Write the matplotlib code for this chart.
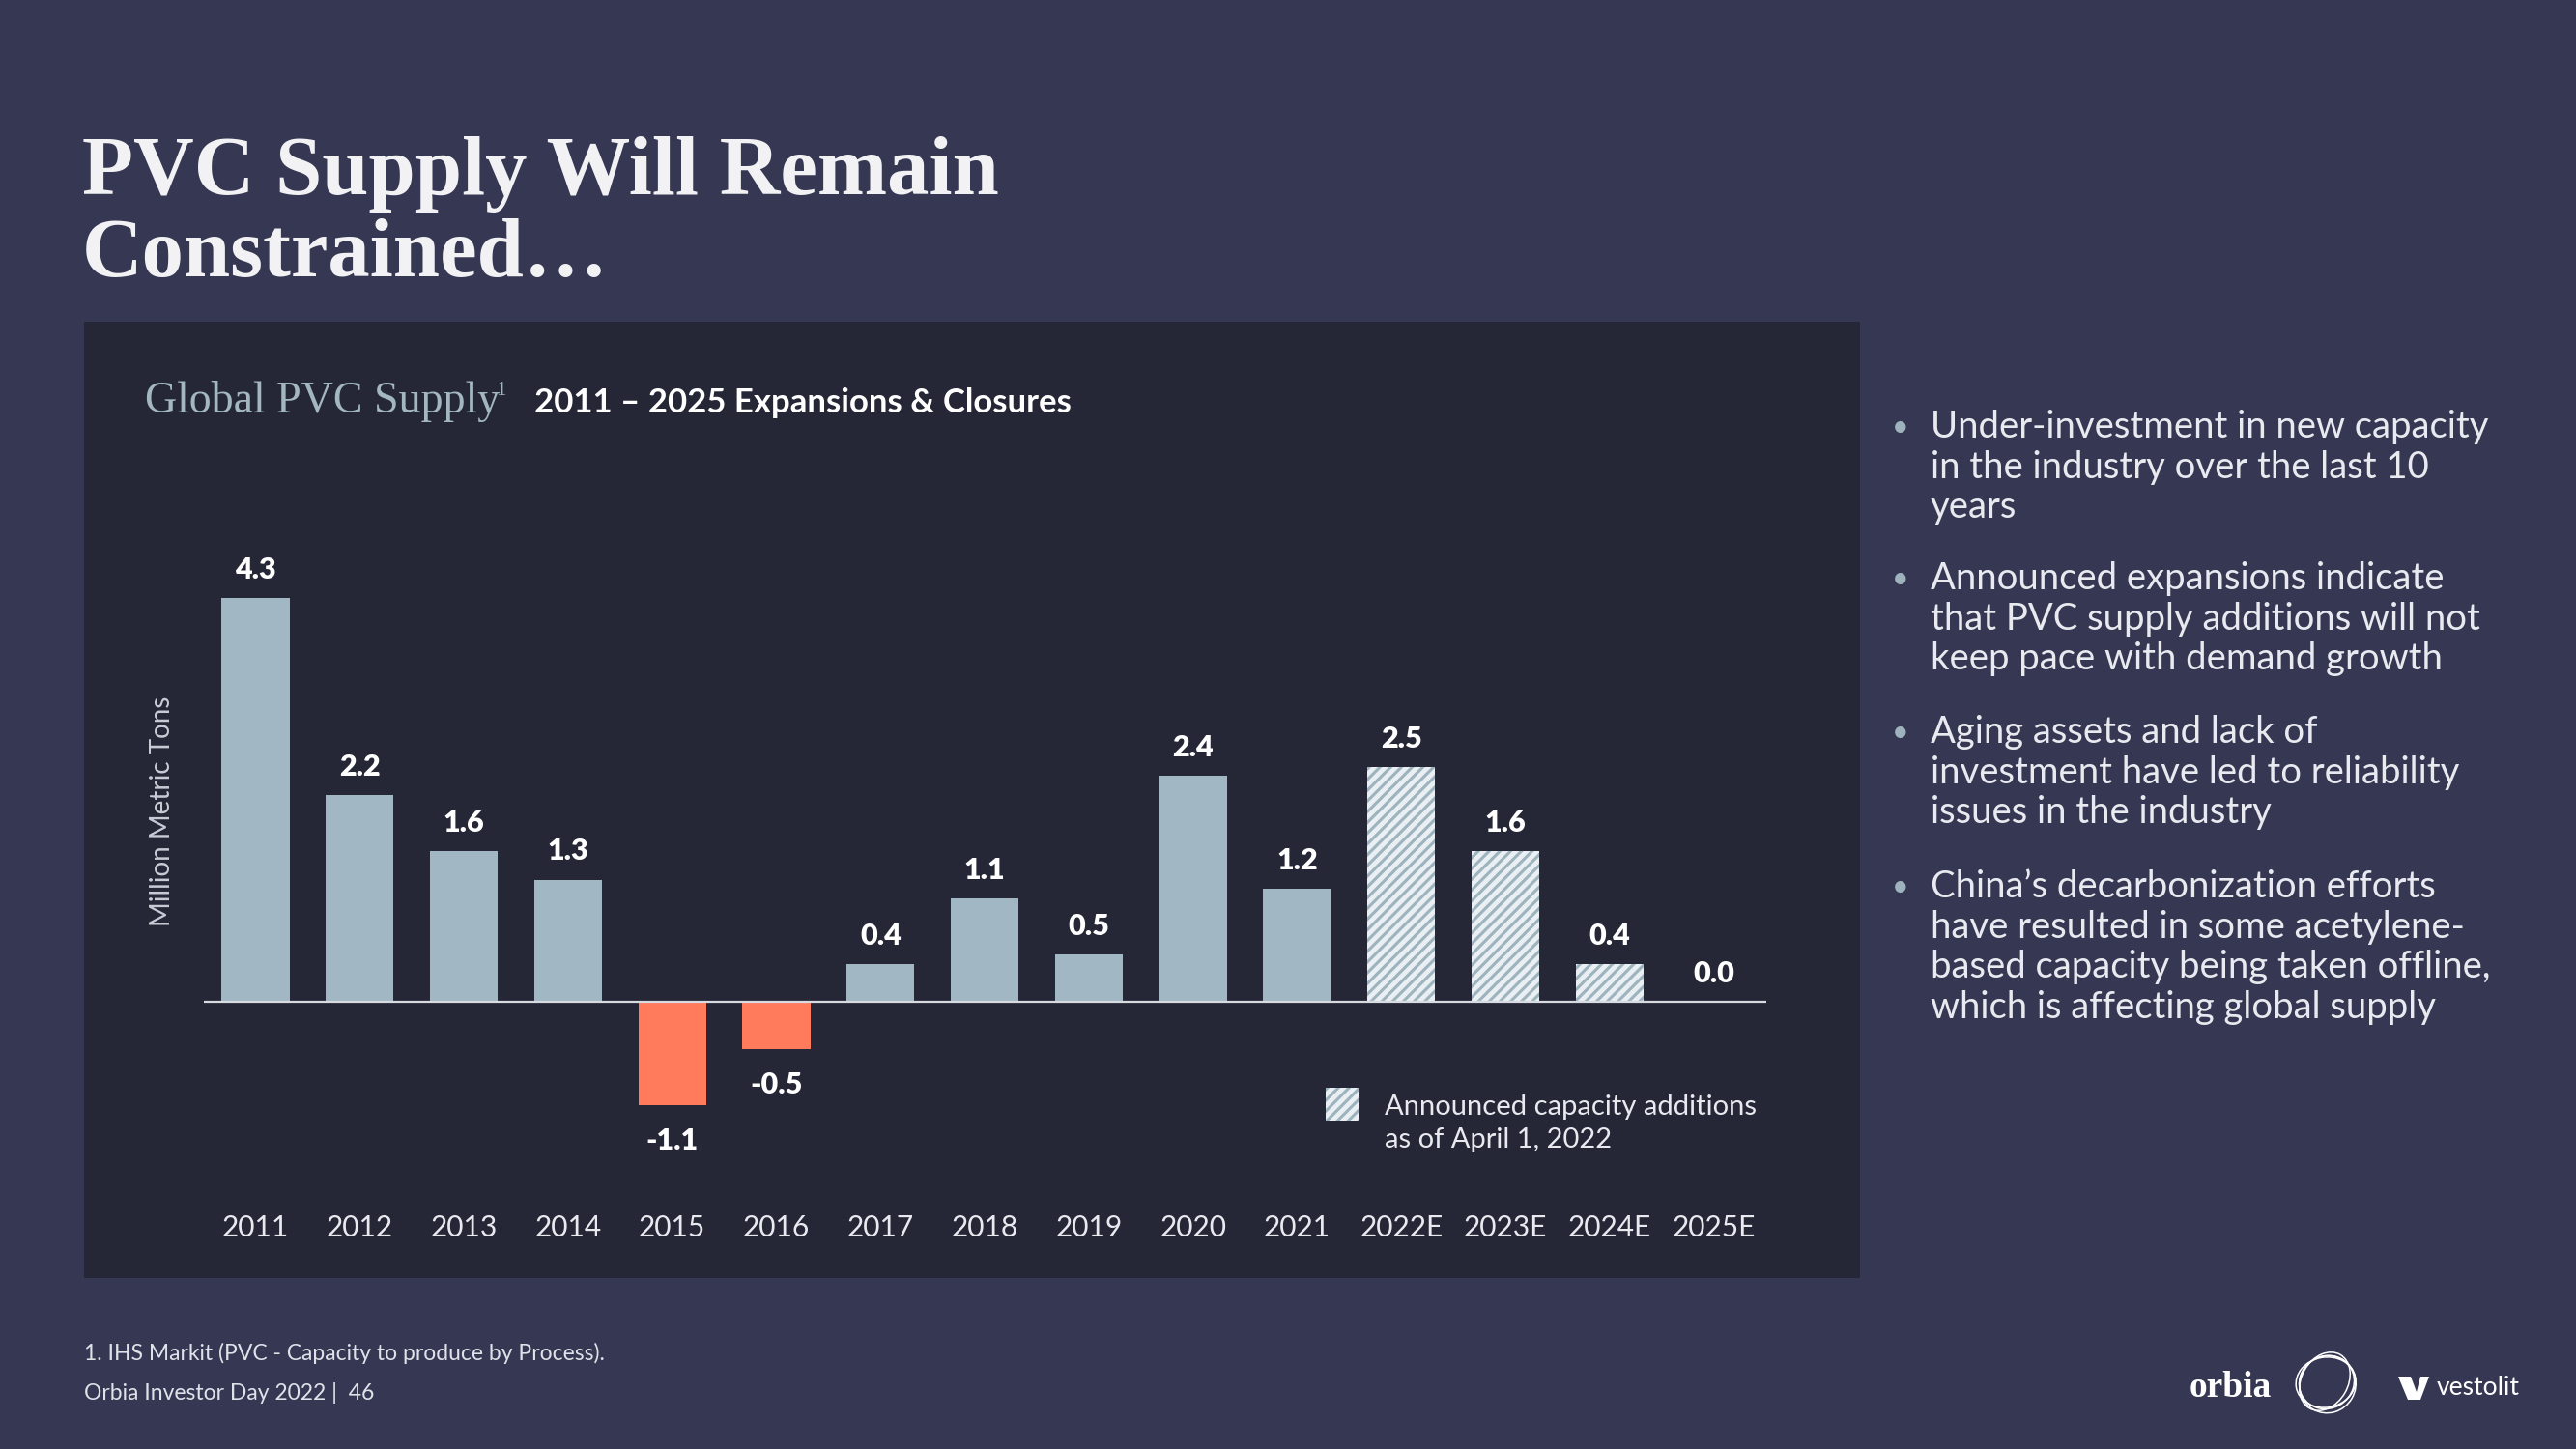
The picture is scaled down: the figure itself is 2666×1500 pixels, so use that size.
import matplotlib
matplotlib.use("Agg")
import matplotlib.pyplot as plt
from matplotlib.patches import Rectangle, Ellipse, Polygon
from matplotlib.transforms import IdentityTransform

# data
years = ['2011', '2012', '2013', '2014', '2015', '2016', '2017', '2018',
         '2019', '2020', '2021', '2022E', '2023E', '2024E', '2025E']
supply = [4.3, 2.2, 1.6, 1.3, -1.1, -0.5, 0.4, 1.1, 0.5, 2.4, 1.2, 2.5, 1.6, 0.4, 0.0]
announced = [False] * 11 + [True] * 4

bullets = [
    ["Under-investment in new capacity", "in the industry over the last 10", "years"],
    ["Announced expansions indicate", "that PVC supply additions will not",
     "keep pace with demand growth"],
    ["Aging assets and lack of", "investment have led to reliability",
     "issues in the industry"],
    ["China\u2019s decarbonization efforts", "have resulted in some acetylene-",
     "based capacity being taken offline,", "which is affecting global supply"],
]

BG = '#363853'
PANEL = '#262736'
BAR = '#A1B7C3'
NEG = '#FF7B5C'
TXT = '#E8EAF0'
SANS = ['Lato', 'DejaVu Sans']
SERIF = ['Liberation Serif', 'DejaVu Serif']

W, H = 2666, 1500


def fx(px):
    return px / W


def fy(py):
    return 1 - py / H


fig = plt.figure(figsize=(W / 100, H / 100), dpi=100, facecolor=BG)

# chart panel
fig.patches.append(Rectangle((fx(87), fy(1323)), fx(1925) - fx(87), fy(333) - fy(1323),
                             transform=fig.transFigure, facecolor=PANEL, edgecolor='none',
                             zorder=-5))

# title
fig.text(fx(85), fy(201), "PVC Supply Will Remain", family=SERIF, weight='bold',
         fontsize=62.5, color='#F2F2F4', va='baseline')
fig.text(fx(85), fy(286), "Constrained\u2026", family=SERIF, weight='bold',
         fontsize=62.5, color='#F2F2F4', va='baseline')

# chart header
fig.text(fx(150), fy(427), "Global PVC Supply", family=SERIF, fontsize=33,
         color='#A3B7C2', va='baseline')
fig.text(fx(513), fy(409), "1", family=SERIF, fontsize=15, color='#A3B7C2',
         va='baseline')
fig.text(fx(553), fy(427), "2011 \u2013 2025 Expansions & Closures", family=SANS,
         weight='bold', fontsize=25, color='#FFFFFF', va='baseline')

# axes
ax_left, ax_right = 210.6, 1827.6
ax_top, ax_bot = 570, 1251
ax = fig.add_axes([fx(ax_left), fy(ax_bot), fx(ax_right) - fx(ax_left), fy(ax_top) - fy(ax_bot)])
ax.set_facecolor('none')
ax.set_zorder(2)

x = list(range(len(years)))
hist_x = [i for i in x if not announced[i]]
hist_v = [supply[i] for i in hist_x]
hist_c = [BAR if v >= 0 else NEG for v in hist_v]
ax.bar(hist_x, hist_v, width=0.65, color=hist_c, linewidth=0, zorder=2)

plt.rcParams['hatch.linewidth'] = 2.2
fut_x = [i for i in x if announced[i]]
fut_v = [supply[i] for i in fut_x]
ax.bar(fut_x, fut_v, width=0.65, facecolor='#E9EFF2', edgecolor='#9DB3BE',
       hatch='///', linewidth=0, zorder=2)

ax.axhline(0, color='#D8DBE2', lw=1.6, zorder=3)

for i, v in enumerate(supply):
    off = 15 if v >= 0 else -23
    ax.annotate(f"{v:.1f}", (i, v), xytext=(0, off), textcoords='offset pixels',
                ha='center', va='bottom' if v >= 0 else 'top', family=SANS,
                weight='heavy', fontsize=22, color='#FFFFFF')

ax.set_xlim(-0.5, len(years) - 0.5)
ax.set_ylim(-2.2, 4.8)
ax.set_xticks(x, years, family=SANS, fontsize=21.5, color=TXT)
ax.tick_params(axis='x', length=0, pad=4)
ax.set_yticks([])
for s in ax.spines.values():
    s.set_visible(False)
ax.set_ylabel("Million Metric Tons", family=SANS, fontsize=20, color='#C9CCD6')
ax.yaxis.set_label_coords((181 - ax_left) / (ax_right - ax_left),
                          (ax_bot - 840) / (ax_bot - ax_top))

# legend for announced additions
fig.patches.append(Rectangle((fx(1372), fy(1160)), fx(1406) - fx(1372), fy(1126) - fy(1160),
                             transform=fig.transFigure, facecolor='#E9EFF2',
                             edgecolor='#9DB3BE', hatch='///', linewidth=0, zorder=3))
fig.text(fx(1433), fy(1146), "Announced capacity additions", family=SANS, fontsize=21,
         color=TXT, va='center')
fig.text(fx(1433), fy(1180), "as of April 1, 2022", family=SANS, fontsize=21,
         color=TXT, va='center')

# bullet points
starts = [442, 599, 758, 918]
for lines, y0 in zip(bullets, starts):
    fig.text(fx(1967), fy(y0), "\u2022", family=SANS, fontsize=22, color='#9FB3BE',
             va='center', ha='center')
    for k, line in enumerate(lines):
        fig.text(fx(1998), fy(y0 + k * 41.7), line, family=SANS, fontsize=27.5,
                 color=TXT, va='center')

# footer
fig.text(fx(87), fy(1401), "1. IHS Markit (PVC - Capacity to produce by Process).",
         family=SANS, fontsize=16.5, color='#E0E2EA', va='center')
fig.text(fx(87), fy(1442), "Orbia Investor Day 2022 |  46", family=SANS, fontsize=16.5,
         color='#E0E2EA', va='center')

# logos
fig.text(fx(2266), fy(1446), "orbia", family=SERIF, weight='bold', fontsize=27,
         color='#FFFFFF', va='baseline')
for w, h, ang, dx, dy in [(62, 52, 10, 0, 0), (58, 60, -30, 2, -2),
                          (64, 48, 60, -1, 1), (54, 58, 120, 1, 0)]:
    fig.patches.append(Ellipse((2407 + dx, H - 1431 + dy), w, h, angle=ang,
                               transform=IdentityTransform(), fill=False,
                               edgecolor='#FFFFFF', lw=1.1, zorder=3))
v_pts = [(2482, 1425), (2495, 1425), (2501, 1441), (2505, 1425), (2514, 1425),
         (2505, 1449), (2492, 1449)]
fig.patches.append(Polygon([(px, H - py) for px, py in v_pts], closed=True,
                           transform=IdentityTransform(), facecolor='#FFFFFF',
                           edgecolor='none', zorder=3))
fig.text(fx(2522), fy(1436), "vestolit", family=SANS, fontsize=19, color='#FFFFFF',
         va='center')

fig.savefig("out.png", dpi=100, facecolor=BG)
